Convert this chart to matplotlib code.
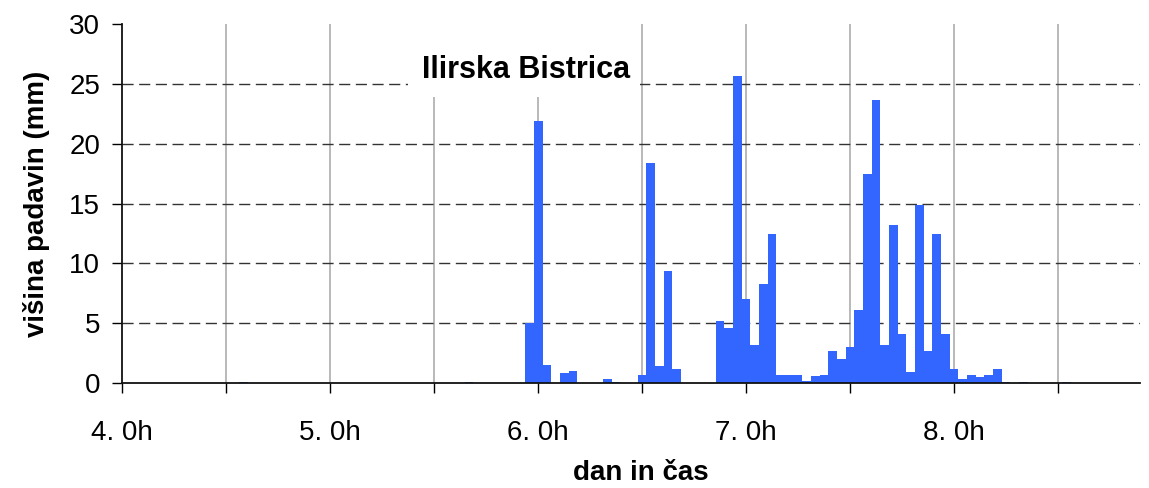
import matplotlib
matplotlib.use("Agg")
import matplotlib.pyplot as plt
from matplotlib.patches import Rectangle
from matplotlib.ticker import MultipleLocator, FixedLocator

plt.rcParams['font.family'] = ['Liberation Sans', 'DejaVu Sans']

# hourly precipitation, hours counted from day 4, 0h
start_day = 4
hours = [14, 40, 47, 48, 49, 51, 52, 56, 57, 60, 61, 62, 63, 64,
         69, 70, 71, 72, 73, 74, 75, 76, 77, 78, 79, 80, 81, 82, 83, 84,
         85, 86, 87, 88, 89, 90, 91, 92, 93, 94, 95, 96, 97, 98, 99, 100,
         101, 102, 104, 109]
rain_mm = [0.1, 0.1, 5.0, 21.9, 1.5, 0.8, 1.0, 0.3, 0.1, 0.7, 18.4, 1.4, 9.4, 1.2,
           5.2, 4.6, 25.7, 7.0, 3.2, 8.3, 12.5, 0.7, 0.7, 0.7, 0.2, 0.6, 0.7, 2.7, 2.0, 3.0,
           6.1, 17.5, 23.7, 3.2, 13.2, 4.1, 0.9, 14.9, 2.7, 12.5, 4.1, 1.2, 0.3, 0.7, 0.5, 0.7,
           1.2, 0.1, 0.1, 0.1]
day_ticks = [4, 5, 6, 7, 8]
day_labels = ["4. 0h", "5. 0h", "6. 0h", "7. 0h", "8. 0h"]
station = "Ilirska Bistrica"

days = [start_day + h / 24 for h in hours]

fig = plt.figure(figsize=(11.49, 4.88), dpi=100)
ax = fig.add_axes([0.1064, 0.2152, 0.8856, 0.7350])

ax.bar(days, rain_mm, width=1 / 24, color='#3366FF', linewidth=0, zorder=3)

ax.set_xlim(4, 8.893)
ax.set_ylim(0, 30)

ax.xaxis.set_major_locator(FixedLocator(day_ticks))
ax.set_xticklabels(day_labels)
ax.xaxis.set_minor_locator(MultipleLocator(0.5))
ax.yaxis.set_major_locator(MultipleLocator(5))

# vertical grey lines every half day, dashed horizontal lines
for x in [4 + 0.5 * i for i in range(1, 10)]:
    ax.axvline(x, color='#A6A6A6', lw=1.1, zorder=1)
for y in range(5, 30, 5):
    ax.axhline(y, color='#333333', lw=1.0, linestyle=(0, (8, 4)), zorder=1)

for s in ['top', 'right']:
    ax.spines[s].set_visible(False)
for s in ['left', 'bottom']:
    ax.spines[s].set_linewidth(1.3)
    ax.spines[s].set_color('#111111')
    ax.spines[s].set_zorder(4)

ax.tick_params(axis='y', direction='out', length=7, width=1, labelsize=20, pad=9)
ax.tick_params(axis='x', which='both', direction='out', length=7, width=1,
               labelsize=20, pad=20)
ax.tick_params(axis='x', which='minor', labelbottom=False)

ax.set_ylabel("višina padavin (mm)", fontsize=20, fontweight='bold', labelpad=14)
ax.set_xlabel("dan in čas", fontsize=20, fontweight='bold')
ax.xaxis.set_label_coords(0.51, -0.215)

# title inside the plot with a white box behind it
ax.add_patch(Rectangle((0.281, 0.797), 0.228, 0.203, transform=ax.transAxes,
                       facecolor='white', edgecolor='none', zorder=2))
ax.text(0.397, 0.872, station, transform=ax.transAxes, ha='center', va='center',
        fontsize=22, fontweight='bold', zorder=5)

fig.savefig("out.png", dpi=100)
